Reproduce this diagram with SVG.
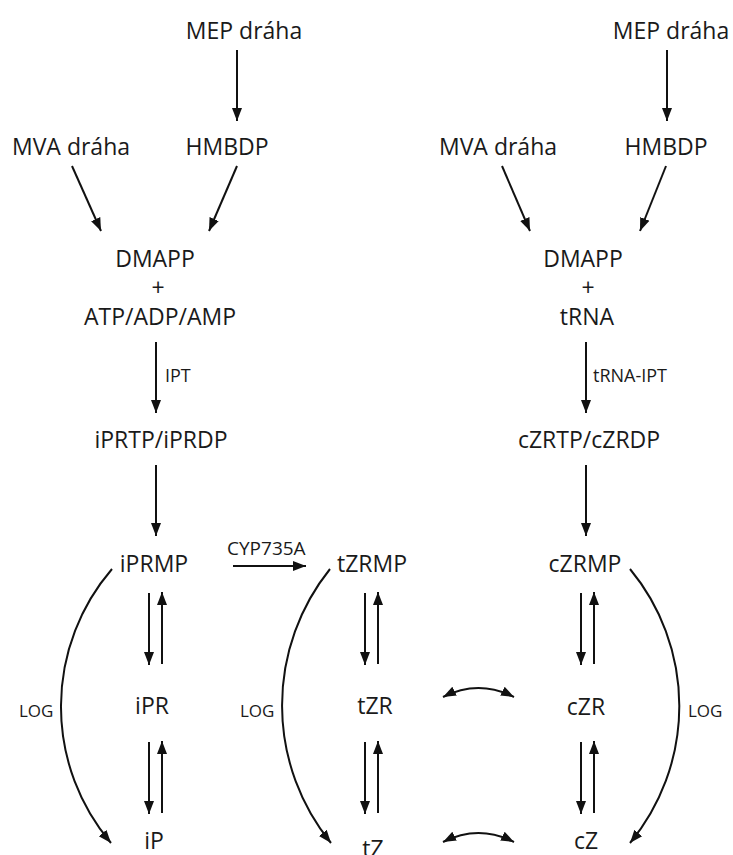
<svg xmlns="http://www.w3.org/2000/svg" width="733" height="855" viewBox="0 0 733 855">
<style>
.t{font-family:"Open Sans","Noto Sans",sans-serif;font-size:23px;fill:#1a1a1a;text-anchor:middle}
.s{font-family:"Open Sans","Noto Sans",sans-serif;font-size:18px;fill:#1a1a1a}
.c{stroke:#111;stroke-width:2;fill:none;marker-end:url(#ah)}
.d{stroke:#111;stroke-width:2;fill:none;marker-end:url(#ah);marker-start:url(#ah)}
</style>
<defs>
<marker id="ah" markerUnits="userSpaceOnUse" markerWidth="14" markerHeight="12" viewBox="0 0 14 12" refX="13" refY="6" orient="auto-start-reverse">
<path d="M0,1 L13,6 L0,11 Z" fill="#111"/>
</marker>
</defs>
<rect width="733" height="855" fill="#fff"/>
<g id="connectors">
<line class="c" x1="237" y1="50" x2="237" y2="121"/>
<line class="c" x1="72" y1="166" x2="101" y2="231"/>
<line class="c" x1="237" y1="166" x2="209" y2="231"/>
<line class="c" x1="156" y1="342" x2="156" y2="413"/>
<line class="c" x1="156" y1="465" x2="156" y2="536"/>
<line class="c" x1="667" y1="50" x2="667" y2="121"/>
<line class="c" x1="502" y1="166" x2="530" y2="231"/>
<line class="c" x1="666" y1="166" x2="640" y2="231"/>
<line class="c" x1="586" y1="342" x2="586" y2="413"/>
<line class="c" x1="586" y1="465" x2="586" y2="536"/>
<line class="c" x1="233" y1="566" x2="306" y2="566"/>
<line class="c" x1="149" y1="593" x2="149" y2="665"/>
<line class="c" x1="162" y1="664" x2="162" y2="592"/>
<line class="c" x1="149" y1="742" x2="149" y2="814"/>
<line class="c" x1="162" y1="813" x2="162" y2="741"/>
<line class="c" x1="365" y1="593" x2="365" y2="665"/>
<line class="c" x1="378" y1="664" x2="378" y2="592"/>
<line class="c" x1="365" y1="742" x2="365" y2="814"/>
<line class="c" x1="378" y1="813" x2="378" y2="741"/>
<line class="c" x1="581" y1="593" x2="581" y2="665"/>
<line class="c" x1="594" y1="664" x2="594" y2="592"/>
<line class="c" x1="581" y1="742" x2="581" y2="814"/>
<line class="c" x1="594" y1="813" x2="594" y2="741"/>
<path class="c" d="M112,569 A211,211 0 0 0 111,843"/>
<path class="c" d="M330,569 A218,218 0 0 0 331,843"/>
<path class="c" d="M630,569 A215,215 0 0 1 630,843"/>
<path class="d" d="M443,697 Q478.5,679 514,697"/>
<path class="d" d="M443,842 Q478.5,824 514,842"/>
</g>
<g id="n-mep-l"><text class="t" x="244" y="39">MEP dráha</text></g>
<g id="n-mva-l"><text class="t" x="71" y="155">MVA dráha</text></g>
<g id="n-hmbdp-l"><text class="t" x="227" y="155">HMBDP</text></g>
<g id="n-dmapp-l"><text class="t" x="155" y="267">DMAPP</text><text class="t" x="158" y="296">+</text><text class="t" x="160" y="325">ATP/ADP/AMP</text></g>
<g id="l-ipt"><text class="s" x="165" y="382">IPT</text></g>
<g id="n-iprtp"><text class="t" x="161" y="448">iPRTP/iPRDP</text></g>
<g id="n-iprmp"><text class="t" x="154" y="572">iPRMP</text></g>
<g id="l-cyp"><text class="s" x="227" y="555" style="font-size:19px">CYP735A</text></g>
<g id="n-tzrmp"><text class="t" x="372" y="572">tZRMP</text></g>
<g id="n-mep-r"><text class="t" x="671" y="39">MEP dráha</text></g>
<g id="n-mva-r"><text class="t" x="498" y="155">MVA dráha</text></g>
<g id="n-hmbdp-r"><text class="t" x="666" y="155">HMBDP</text></g>
<g id="n-dmapp-r"><text class="t" x="583" y="267">DMAPP</text><text class="t" x="588" y="296">+</text><text class="t" x="587" y="325">tRNA</text></g>
<g id="l-trnaipt"><text class="s" x="593" y="382">tRNA-IPT</text></g>
<g id="n-czrtp"><text class="t" x="589" y="448">cZRTP/cZRDP</text></g>
<g id="n-czrmp"><text class="t" x="585" y="572">cZRMP</text></g>
<g id="n-ipr"><text class="t" x="152" y="714">iPR</text></g>
<g id="n-tzr"><text class="t" x="375" y="714">tZR</text></g>
<g id="n-czr"><text class="t" x="586" y="715">cZR</text></g>
<g id="n-ip"><text class="t" x="154" y="849">iP</text></g>
<g id="n-tz"><text class="t" x="373" y="857">tZ</text></g>
<g id="n-cz"><text class="t" x="586" y="849">cZ</text></g>
<g id="l-log"><text class="s" x="19" y="717" style="font-size:17px">LOG</text><text class="s" x="240" y="717" style="font-size:17px">LOG</text><text class="s" x="688" y="717" style="font-size:17px">LOG</text></g>
</svg>
